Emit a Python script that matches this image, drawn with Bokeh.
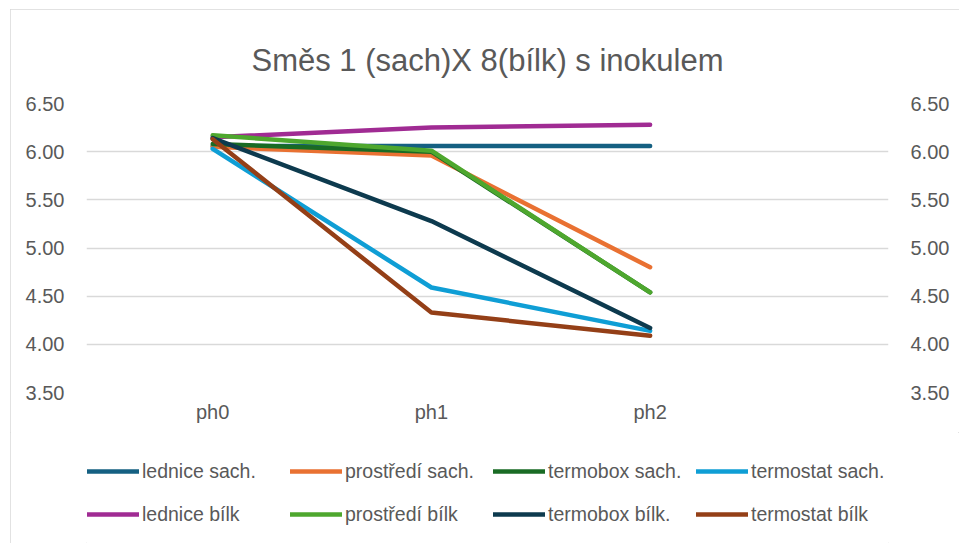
from bokeh.plotting import figure
from bokeh.layouts import column
from bokeh.models import (Range1d, LinearAxis, FixedTicker, NumeralTickFormatter,
                          Legend, LegendItem)
from bokeh.embed import file_html
from bokeh.resources import INLINE

title_text = "Směs 1 (sach)X 8(bílk) s inokulem"
categories = ["ph0", "ph1", "ph2"]
y_ticks = [3.5, 4.0, 4.5, 5.0, 5.5, 6.0, 6.5]

series_names = ["lednice sach.", "prostředí sach.", "termobox sach.", "termostat sach.",
                "lednice bílk", "prostředí bílk", "termobox bílk.", "termostat bílk"]
lednice_sach = [6.06, 6.06, 6.06]
prostredi_sach = [6.05, 5.96, 4.80]
termobox_sach = [6.08, 6.00, 4.54]
termostat_sach = [6.03, 4.59, 4.14]
lednice_bilk = [6.15, 6.25, 6.28]
prostredi_bilk = [6.17, 6.01, 4.54]
termobox_bilk = [6.14, 5.28, 4.17]
termostat_bilk = [6.13, 4.33, 4.09]
series_values = [lednice_sach, prostredi_sach, termobox_sach, termostat_sach,
                 lednice_bilk, prostredi_bilk, termobox_bilk, termostat_bilk]
colors = ["#156082", "#E97132", "#196B24", "#0F9ED5",
          "#A02B93", "#4EA72E", "#0D3A4E", "#943F17"]

FONT = "Liberation Sans"
TXT = "#595959"
W = 949
H_MAIN = 423
H_LEG = 111

x = list(range(len(categories)))

p = figure(width=W, height=H_MAIN, output_backend="svg", toolbar_location=None,
           x_range=Range1d(-0.577, 3.09), y_range=Range1d(3.5, 6.5),
           min_border_left=76, min_border_right=71, min_border_top=94,
           min_border_bottom=40, x_axis_location="below")
p.outline_line_color = None
p.background_fill_color = "white"
p.border_fill_color = "white"

p.title.text = title_text
p.title.align = "center"
p.title.text_font = FONT
p.title.text_font_size = "31px"
p.title.text_font_style = "normal"
p.title.text_color = TXT
p.title.standoff = 51

# axes
p.xaxis.ticker = FixedTicker(ticks=x)
p.xaxis.major_label_overrides = {i: c for i, c in zip(x, categories)}
p.yaxis.ticker = FixedTicker(ticks=y_ticks)
p.yaxis.formatter = NumeralTickFormatter(format="0.00")
right = LinearAxis(ticker=FixedTicker(ticks=y_ticks),
                   formatter=NumeralTickFormatter(format="0.00"))
p.add_layout(right, "right")

for ax in [p.xaxis[0], p.yaxis[0], right]:
    ax.axis_line_color = None
    ax.major_tick_line_color = None
    ax.minor_tick_line_color = None
    ax.major_tick_out = 0
    ax.major_tick_in = 0
    ax.major_label_text_font = FONT
    ax.major_label_text_font_size = "20px"
    ax.major_label_text_color = TXT
p.yaxis[0].major_label_standoff = 22
right.major_label_standoff = 22
p.xaxis[0].major_label_standoff = 8

p.xgrid.grid_line_color = None
p.ygrid.grid_line_color = "#d9d9d9"
p.ygrid.grid_line_width = 1.5
p.ygrid.ticker = FixedTicker(ticks=y_ticks)

# legend figure (same series, drawn outside its visible range, used only for the legend)
pl = figure(width=W, height=H_LEG, output_backend="svg", toolbar_location=None,
            x_range=p.x_range, y_range=Range1d(0, 1),
            x_axis_type=None, y_axis_type=None,
            min_border_left=0, min_border_right=0, min_border_top=0, min_border_bottom=0)
pl.outline_line_color = None
pl.grid.grid_line_color = None
pl.border_fill_color = "white"

items = []
for name, vals, col in zip(series_names, series_values, colors):
    p.line(x, vals, line_color=col, line_width=4.5, line_join="round", line_cap="round")
    r2 = pl.line(x, vals, line_color=col, line_width=4.5, line_cap="round")
    items.append(LegendItem(label=name, renderers=[r2]))

legend = Legend(items=items, orientation="horizontal", ncols=4,
                location=(1, 12), padding=0, margin=0,
                border_line_color=None, background_fill_alpha=0,
                glyph_width=52, glyph_height=34, label_height=34,
                label_width=139, label_standoff=3, spacing=9,
                label_text_font=FONT, label_text_font_size="19.5px",
                label_text_color=TXT)
pl.add_layout(legend, "center")

layout = column(p, pl, spacing=0)
layout.styles = {"margin-left": "10px", "margin-top": "9px",
                 "outline": "1px solid #d9d9d9", "outline-offset": "-1px"}

open("out.html", "w").write(file_html(layout, INLINE))
